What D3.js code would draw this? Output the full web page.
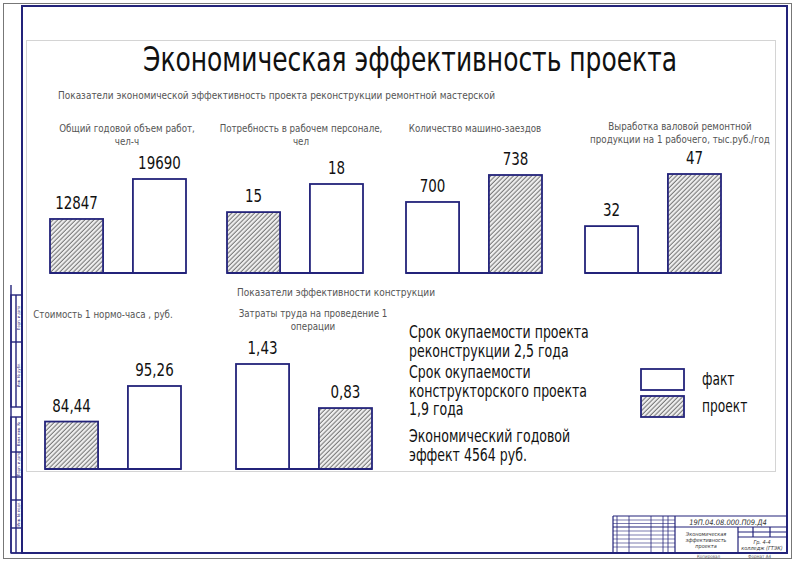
<!DOCTYPE html>
<html>
<head>
<meta charset="utf-8">
<script src="https://cdn.jsdelivr.net/npm/d3@7"></script>
<style>
  body { margin: 0; background: #fff; }
  text { font-family: "Liberation Sans Narrow", "DejaVu Sans Condensed", "Roboto Condensed", sans-serif; }
</style>
</head>
<body>
<svg width="800" height="562"></svg>
<script>
// ---- data ----
const chartTitle = 'Экономическая эффективность проекта';
const groupTitles = [
  'Показатели экономической эффективность проекта реконструкции ремонтной мастерской',
  'Показатели эффективности конструкции'
];
const indicators = [
  ['Общий годовой объем работ,', 'чел-ч'],
  ['Потребность в рабочем персонале,', 'чел'],
  ['Количество машино-заездов'],
  ['Выработка валовой ремонтной', 'продукции на 1 рабочего, тыс.руб./год'],
  ['Стоимость 1 нормо-часа , руб.'],
  ['Затраты труда на проведение 1', 'операции']
];
const firstValues  = [12847, 15, 700, 32, 84.44, 1.43];
const secondValues = [19690, 18, 738, 47, 95.26, 0.83];
const firstSeries  = ['проект', 'проект', 'факт', 'факт', 'проект', 'факт'];
const secondSeries = ['факт', 'факт', 'проект', 'проект', 'факт', 'проект'];
const seriesNames = ['факт', 'проект'];
const notes = [
  ['Срок окупаемости проекта', 'реконструкции 2,5 года'],
  ['Срок окупаемости', 'конструкторского проекта', '1,9 года'],
  ['Экономический годовой', 'эффект 4564 руб.']
];

// ---- layout (positions / scale floors for each panel) ----
const layout = [
  { x: 50,  base: 273, h: 94,  lo: 3600, tx: 127, ty: 132 },
  { x: 227, base: 273, h: 89,  lo: 8.5,  tx: 301, ty: 132 },
  { x: 406, base: 273, h: 98,  lo: 600,  tx: 475, ty: 132 },
  { x: 585, base: 273, h: 99,  lo: 18.5, tx: 680, ty: 130 },
  { x: 45,  base: 469, h: 83,  lo: 70,   tx: 103, ty: 318 },
  { x: 236, base: 469, h: 105, lo: 0,    tx: 313, ty: 317 }
];

const svg = d3.select('svg');
const navy = '#23237a';

// squeeze text horizontally to mimic the narrow drafting font
const narrow = (sel, k) => sel.each(function () {
  const w = this.getComputedTextLength();
  d3.select(this).attr('textLength', w * k).attr('lengthAdjust', 'spacingAndGlyphs');
});

const locale = d3.formatLocale({ decimal: ',', thousands: '', grouping: [3], currency: ['', ''] });
const fmt = locale.format('~f');

const fillScale = d3.scaleOrdinal()
  .domain(seriesNames)
  .range(['#fff', 'url(#hatch)']);

// hatch pattern
const defs = svg.append('defs');
defs.append('pattern')
  .attr('id', 'hatch')
  .attr('patternUnits', 'userSpaceOnUse')
  .attr('width', 3.2).attr('height', 3.2)
  .attr('patternTransform', 'rotate(45)')
  .call(p => {
    p.append('rect').attr('width', 3.2).attr('height', 3.2).attr('fill', '#f0f0f0');
    p.append('line').attr('x1', 1).attr('y1', 0).attr('x2', 1).attr('y2', 3.2)
      .attr('stroke', '#606060').attr('stroke-width', 0.9);
  });

// ---- drawing frame ----
svg.append('rect').attr('x', 3.5).attr('y', 3.5).attr('width', 788).attr('height', 555)
  .attr('fill', 'none').attr('stroke', '#777').attr('stroke-width', 1);
svg.append('rect').attr('x', 22).attr('y', 6).attr('width', 765).attr('height', 547)
  .attr('fill', 'none').attr('stroke', navy).attr('stroke-width', 2);
svg.append('rect').attr('x', 26.5).attr('y', 40.5).attr('width', 749).attr('height', 431)
  .attr('fill', 'none').attr('stroke', '#d4d4d4').attr('stroke-width', 1);

// left strip
const strip = svg.append('g').attr('stroke', navy).attr('stroke-width', 1.4).attr('fill', 'none');
strip.append('line').attr('x1', 11).attr('y1', 285).attr('x2', 11).attr('y2', 553);
strip.append('line').attr('x1', 11).attr('y1', 553).attr('x2', 22).attr('y2', 553);
[[295, 407, [342]], [417, 553, [452, 477, 500, 528]]].forEach(([y0, y1, mids]) => {
  strip.append('rect').attr('x', 11).attr('y', y0).attr('width', 11).attr('height', y1 - y0);
  strip.append('line').attr('x1', 16).attr('y1', y0).attr('x2', 16).attr('y2', y1);
  mids.forEach(m => strip.append('line').attr('x1', 11).attr('y1', m).attr('x2', 22).attr('y2', m));
});
[['Подп. и дата', 318], ['Инв. № дубл.', 375], ['Взам. инв. №', 434], ['Подп. и дата', 464], ['Инв. № подл.', 514]]
  .forEach(([t, y]) => svg.append('text')
    .attr('transform', `translate(20,${y}) rotate(-90)`)
    .attr('text-anchor', 'middle').attr('font-size', 4).attr('fill', navy).text(t));

// title block
const tb = svg.append('g').attr('stroke', navy).attr('stroke-width', 1.2).attr('fill', 'none');
tb.append('line').attr('x1', 613).attr('y1', 516).attr('x2', 787).attr('y2', 516);
tb.append('line').attr('x1', 613).attr('y1', 516).attr('x2', 613).attr('y2', 553);
tb.append('line').attr('x1', 675).attr('y1', 516).attr('x2', 675).attr('y2', 553);
tb.append('line').attr('x1', 613).attr('y1', 527).attr('x2', 787).attr('y2', 527);
tb.append('line').attr('x1', 738).attr('y1', 527).attr('x2', 738).attr('y2', 553);
[532, 537].forEach(y => tb.append('line').attr('x1', 738).attr('y1', y).attr('x2', 787).attr('y2', y));
[753, 770].forEach(x => tb.append('line').attr('x1', x).attr('y1', 527).attr('x2', x).attr('y2', 537));
[617, 629, 651, 663, 668].forEach(x => tb.append('line').attr('x1', x).attr('y1', 516).attr('x2', x).attr('y2', 553)
  .attr('stroke-width', 0.8));
[520, 523.5, 531, 535, 539, 543, 547].forEach(y => tb.append('line').attr('x1', 613).attr('y1', y).attr('x2', 675).attr('y2', y)
  .attr('stroke-width', 0.6));
svg.append('text').attr('x', 728).attr('y', 525).attr('text-anchor', 'middle')
  .attr('font-size', 7.5).attr('font-style', 'italic').attr('fill', '#333').text('19П.04.08.000.П09.Д4');
['Экономическая', 'эффективность', 'проекта'].forEach((t, i) => svg.append('text')
  .attr('x', 706).attr('y', 536 + i * 6).attr('text-anchor', 'middle')
  .attr('font-size', 5.5).attr('font-style', 'italic').attr('fill', '#333').text(t));
['Гр. 4-4', 'колледж (ГТЭК)'].forEach((t, i) => svg.append('text')
  .attr('x', 762).attr('y', 544 + i * 6).attr('text-anchor', 'middle')
  .attr('font-size', 5.5).attr('font-style', 'italic').attr('fill', '#333').text(t));
svg.append('text').attr('x', 697).attr('y', 558).attr('font-size', 4.5).attr('fill', '#555').text('Копировал');
svg.append('text').attr('x', 748).attr('y', 558).attr('font-size', 4.5).attr('fill', '#555').text('Формат  А4');

// ---- titles ----
svg.append('text').attr('x', 410).attr('y', 71).attr('text-anchor', 'middle')
  .attr('font-size', 34).attr('fill', '#111')
  .attr('textLength', 534).attr('lengthAdjust', 'spacingAndGlyphs')
  .text(chartTitle);
svg.append('text').attr('x', 58).attr('y', 99)
  .attr('font-size', 11).attr('fill', '#555')
  .attr('textLength', 437).attr('lengthAdjust', 'spacingAndGlyphs')
  .text(groupTitles[0]);
svg.append('text').attr('x', 237).attr('y', 296)
  .attr('font-size', 11).attr('fill', '#555')
  .attr('textLength', 198).attr('lengthAdjust', 'spacingAndGlyphs')
  .text(groupTitles[1]);

// ---- panels ----
const render = (selection, i) => {
  const L = layout[i];
  const vals = [firstValues[i], secondValues[i]];
  const ser = [firstSeries[i], secondSeries[i]];

  const x = d3.scaleBand().domain([0, 1]).range([L.x, L.x + 136]).paddingInner(0.36);
  const y = d3.scaleLinear().domain([L.lo, d3.max(vals)]).range([L.base, L.base - L.h]);

  const g = selection.append('g');

  g.selectAll('text.ttl').data(indicators[i]).enter()
    .append('text').attr('class', 'ttl')
    .attr('x', L.tx).attr('y', (t, k) => L.ty + k * 13)
    .attr('text-anchor', 'middle').attr('font-size', 11).attr('fill', '#555')
    .text(t => t)
    .call(narrow, 0.88);

  g.selectAll('rect.bar').data(vals).enter()
    .append('rect').attr('class', 'bar')
    .attr('x', (d, k) => x(k))
    .attr('y', d => y(d))
    .attr('width', x.bandwidth())
    .attr('height', d => L.base - y(d))
    .attr('fill', (d, k) => fillScale(ser[k]))
    .attr('stroke', navy).attr('stroke-width', 1.8);

  g.append('line')
    .attr('x1', x(0)).attr('x2', x(1) + x.bandwidth())
    .attr('y1', L.base).attr('y2', L.base)
    .attr('stroke', navy).attr('stroke-width', 1.8);

  g.selectAll('text.val').data(vals).enter()
    .append('text').attr('class', 'val')
    .attr('x', (d, k) => x(k) + x.bandwidth() / 2)
    .attr('y', d => y(d) - 10)
    .attr('text-anchor', 'middle').attr('font-size', 18).attr('fill', '#111')
    .text(d => fmt(d))
    .call(narrow, 0.83);
};

d3.range(indicators.length).forEach(i => render(svg, i));

// ---- notes ----
const noteY = [338, 378, 442];
notes.forEach((lines, n) => lines.forEach((t, k) => svg.append('text')
  .attr('x', 409).attr('y', noteY[n] + k * 18.5)
  .attr('font-size', 17).attr('fill', '#111').text(t)
  .call(narrow, 0.82)));

// ---- legend ----
const legend = svg.append('g').attr('transform', 'translate(641,369)');
legend.selectAll('rect').data(seriesNames).enter().append('rect')
  .attr('x', 0).attr('y', (d, i) => i * 27)
  .attr('width', 43).attr('height', 21)
  .attr('fill', d => fillScale(d))
  .attr('stroke', navy).attr('stroke-width', 1.8);
legend.selectAll('text').data(seriesNames).enter().append('text')
  .attr('x', 61).attr('y', (d, i) => 16 + i * 27)
  .attr('font-size', 17).attr('fill', '#111').text(d => d)
  .call(narrow, 0.8);
</script>
</body>
</html>
